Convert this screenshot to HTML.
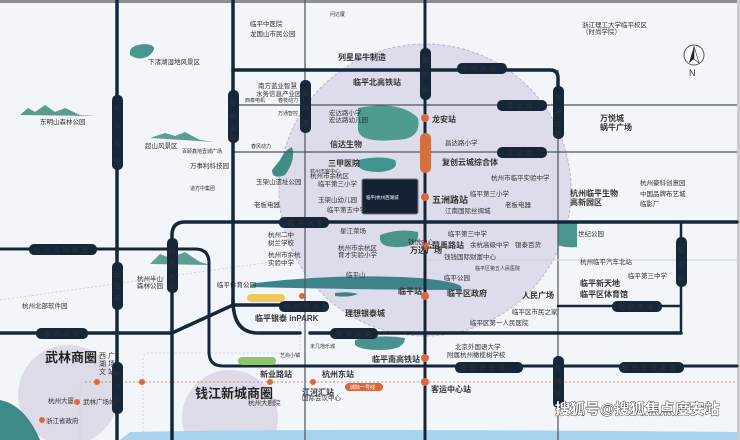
<!DOCTYPE html>
<html><head><meta charset="utf-8"><style>
html,body{margin:0;padding:0;background:#f2f5f9;width:740px;height:440px;overflow:hidden}
svg{display:block}
text{font-family:"Liberation Sans","Noto Sans CJK SC",sans-serif;fill:#333}
.s{font-size:6.5px}
.m{font-size:8px;font-weight:bold;fill:#222}
.p{font-size:6.5px;fill:#fff;letter-spacing:3px}
.pv{font-size:6.5px;fill:#fff}
</style></head><body>
<svg width="740" height="440" viewBox="0 0 740 440" xmlns="http://www.w3.org/2000/svg">
<rect width="740" height="440" fill="#f2f5f9"/>
<rect width="740" height="3" fill="#8d9093"/>
<rect x="737" y="0" width="3" height="440" fill="#c9ccd0"/>

<circle cx="425" cy="190" r="146" fill="#dddcec" stroke="#b8b8cc" stroke-dasharray="3 2" stroke-width="1"/>
<circle cx="68" cy="395" r="50" fill="#dcdbe7"/>
<circle cx="230" cy="418" r="48" fill="#dcdbe7"/>

<path d="M120 440 L130 432 Q300 428 737 432 L737 440 Z" fill="#a9d3ec"/>
<path d="M0 440 L0 400 Q25 405 40 440 Z" fill="#3e8a86"/>

<path d="M130 55 Q128 45 145 44 Q160 45 150 55 Q140 62 130 55Z" fill="#4b958f"/>
<path d="M280 160 Q285 150 292 147 Q296 160 285 175 Q272 180 272 170Z" fill="#3e8d86"/>
<path d="M358 108 Q400 100 418 118 Q422 140 395 140 Q360 143 358 130Z" fill="#4f9b90"/>
<path d="M358 160 Q380 155 395 160 Q400 170 380 172 Q360 172 358 165Z" fill="#3f958e"/>
<path d="M380 235 Q400 228 418 232 Q420 246 400 247 Q382 248 380 240Z" fill="#4b938c"/>
<path d="M255 283 Q340 273 420 278 Q470 283 460 290 Q380 290 250 287Z" fill="#3d8388"/>
<path d="M335 293 Q348 291 358 294 Q348 298 335 296Z" fill="#3d8388"/>
<path d="M355 340 Q380 334 405 338 Q405 350 380 350 Q360 350 355 345Z" fill="#4a928d"/>
<path d="M558 222 L577 222 L577 247 Q565 248 558 245Z" fill="#4b958f"/>
<path d="M20 115 L28 108 L35 112 L45 105 L55 112 L65 108 L80 115 L95 116 Z" fill="#5a9a8f"/>
<path d="M150 138 L165 133 L175 136 L185 132 L200 140 L215 142 Z" fill="#5e9d92"/>
<path d="M150 264 L160 254 L170 258 L185 252 L200 262 L210 265Z" fill="#5e9d92"/>

<g stroke="#4b5560" stroke-width="1.2" fill="none">
<line x1="233" y1="105" x2="737" y2="105"/>
<line x1="233" y1="152" x2="737" y2="152"/>
<line x1="305" y1="0" x2="305" y2="440"/>
<line x1="558" y1="70" x2="558" y2="440"/>
<line x1="425" y1="260" x2="737" y2="260" stroke="#d0d6dc"/>
</g>
<g stroke="#c7ccd2" stroke-width="0.8" fill="none" stroke-dasharray="2 2">
<line x1="0" y1="300" x2="300" y2="258"/>
<path d="M80 440 L80 390 Q80 382 90 382"/>
<path d="M143 440 L143 360 Q143 353 150 353 L300 353 L300 310"/>
</g>
<line x1="85" y1="382" x2="737" y2="382" stroke="#e28a6a" stroke-width="1" stroke-dasharray="2 2"/>

<g stroke="#172638" stroke-width="3.5" fill="none" stroke-linecap="round">
<line x1="117" y1="0" x2="117" y2="440"/>
<line x1="233" y1="0" x2="233" y2="305"/>
<line x1="425" y1="0" x2="425" y2="440" stroke-width="3"/>
<path d="M233 70 L550 70 Q558 70 558 78 L558 110" />
<path d="M172 440 L172 235 Q172 222 185 222 L737 222"/>
<path d="M0 249 L195 249 Q209 249 209 263 L209 352 Q209 366 223 366 L737 366" stroke-width="3"/>
<path d="M0 333 L172 333 L233 305 L305 305"/>
<path d="M233 300 Q233 333 258 333 L300 333"/>
<line x1="310" y1="333" x2="681" y2="333"/>
<line x1="558" y1="306" x2="681" y2="306" stroke-width="2.5"/>
<line x1="681" y1="222" x2="681" y2="333" stroke-width="2.5"/>
</g>

<g fill="#172638">
<rect x="112" y="95" width="11" height="75" rx="5"/>
<rect x="228" y="90" width="11" height="53" rx="5"/>
<rect x="300" y="80" width="11" height="53" rx="5"/>
<rect x="420" y="48" width="11" height="52" rx="5"/>
<rect x="553" y="86" width="11" height="53" rx="5"/>
<rect x="457" y="63" width="50" height="11" rx="5"/>
<rect x="497" y="100" width="50" height="11" rx="5"/>
<rect x="497" y="147" width="50" height="11" rx="5"/>
<rect x="279" y="217" width="50" height="11" rx="5"/>
<rect x="29" y="244" width="68" height="11" rx="5"/>
<rect x="112" y="262" width="11" height="48" rx="5"/>
<rect x="167" y="238" width="11" height="55" rx="5"/>
<rect x="279" y="301" width="50" height="11" rx="5"/>
<rect x="36" y="328" width="52" height="11" rx="5"/>
<rect x="330" y="328" width="48" height="11" rx="5"/>
<rect x="112" y="362" width="11" height="52" rx="5"/>
<rect x="455" y="362" width="68" height="11" rx="5"/>
<rect x="553" y="356" width="11" height="52" rx="5"/>
<rect x="619" y="362" width="65" height="11" rx="5"/>
<rect x="612" y="301" width="50" height="11" rx="5"/>
<rect x="676" y="237" width="11" height="50" rx="5"/>
<rect x="420" y="133" width="11" height="40" rx="5" fill="#d2703f"/>
</g>
<g class="p">
<text x="461" y="71">宁桥大道</text><text x="507" y="108">宏达路</text><text x="507" y="155">五洲路</text>
<text x="288" y="225">临平大道</text><text x="34" y="252">杭州绕城高速</text><text x="284" y="309">世纪大道西</text>
<text x="44" y="336">留石高架</text><text x="336" y="336">望梅高架</text><text x="460" y="370">通胜快速通</text>
<text x="622" y="370">杭州绕城高速</text><text x="618" y="309">世纪大道</text>
</g>
<g class="pv" text-anchor="middle">
<text x="117" y="110">长</text><text x="117" y="128">深</text><text x="117" y="146">高</text><text x="117" y="164">速</text>
<text x="233" y="105">望</text><text x="233" y="118">梅</text><text x="233" y="131">高</text><text x="233" y="140">架</text>
<text x="305" y="95">星</text><text x="305" y="110">河</text><text x="305" y="125">路</text>
<text x="425" y="62">南</text><text x="425" y="77">苑</text><text x="425" y="92">路</text>
<text x="558" y="100">东</text><text x="558" y="113">湖</text><text x="558" y="126">北</text><text x="558" y="136">路</text>
<text x="117" y="276">上</text><text x="117" y="288">塘</text><text x="117" y="300">高</text>
<text x="172" y="253">秋</text><text x="172" y="266">石</text><text x="172" y="279">高</text><text x="172" y="290">架</text>
<text x="117" y="376">中</text><text x="117" y="389">河</text><text x="117" y="402">高</text>
<text x="558" y="370">东</text><text x="558" y="383">湖</text><text x="558" y="396">高</text>
<text x="681" y="252">临</text><text x="681" y="267">东</text><text x="681" y="281">路</text>
</g>

<rect x="362" y="179" width="56" height="35" rx="2" fill="#152234" stroke="#6d7780"/>
<text x="366" y="199" style="font-size:4.5px;fill:#fff">临平|杭州西湖城</text>

<g fill="#d9693f">
<circle cx="425" cy="118" r="4"/><circle cx="425" cy="197" r="4"/><circle cx="425" cy="246" r="4"/>
<circle cx="425" cy="296" r="4"/><circle cx="425" cy="358" r="4"/><circle cx="425" cy="382" r="4"/>
<circle cx="302" cy="296" r="3"/><circle cx="97" cy="382" r="3"/><circle cx="142" cy="382" r="3"/>
<circle cx="270" cy="382" r="3"/><circle cx="313" cy="382" r="3"/><circle cx="77" cy="402" r="3"/>
<circle cx="42" cy="420" r="3"/>
</g>
<rect x="345" y="383" width="38" height="8" rx="4" fill="#d9693f"/>
<text x="350" y="389" style="font-size:5px;fill:#fff">城际一号线</text>
<rect x="247" y="294" width="38" height="8" rx="4" fill="#efc95a"/>
<rect x="238" y="357" width="38" height="8" rx="4" fill="#8fc46e"/>

<g class="s">
<text x="250" y="26">临平中医院</text><text x="250" y="36">龙国山市民公园</text>
<text x="148" y="64">下渚湖湿地风景区</text><text x="40" y="124">东明山森林公园</text>
<text x="145" y="148">超山风景区</text><text x="182" y="153" style="font-size:5px">百颐鑫地壹城广场</text>
<text x="190" y="168">万事利科技园</text><text x="190" y="190" style="font-size:5px">道方中集团</text>
<text x="258" y="88">南方蓝业智慧</text><text x="256" y="96">水务信息产业园</text>
<text x="245" y="102" style="font-size:5px">西泰电机</text><text x="278" y="102" style="font-size:5px">春枝动力</text>
<text x="278" y="115" style="font-size:5px">万通智控</text><text x="251" y="148" style="font-size:5px">春风动力</text>
<text x="256" y="184">玉架山遗址公园</text><text x="254" y="207">老板电器</text>
<text x="329" y="115">宏达路小学</text><text x="329" y="122">宏达路幼儿园</text>
<text x="445" y="145">昌达路小学</text><text x="491" y="180">杭州市临平实验中学</text>
<text x="470" y="196">临平第三小学</text><text x="505" y="207">老板电器</text><text x="445" y="213">江南国际丝绸城</text>
<text x="310" y="178">杭州市余杭区</text><text x="318" y="186">临平第三小学</text>
<text x="318" y="202">玉架山幼儿园</text><text x="327" y="212">临平第五中学</text>
<text x="310" y="173" style="font-size:5px">杭州市客中心</text>
<text x="268" y="237">杭州二中</text><text x="268" y="245">树兰学校</text>
<text x="268" y="257">杭州市余杭</text><text x="268" y="265">实验中学</text>
<text x="340" y="233">星江菜场</text><text x="338" y="250">杭州市余杭区</text><text x="338" y="257">育才实验小学</text>
<text x="346" y="277">临平山</text><text x="22" y="308">杭州北部软件园</text><text x="217" y="287">临平体育公园</text>
<text x="137" y="281">杭州半山</text><text x="137" y="288">森林公园</text>
<text x="408" y="244">钱悦中心</text><text x="448" y="236">临平第三中学</text><text x="470" y="247">余杭高级中学</text>
<text x="515" y="247">银泰百货</text><text x="444" y="259">钱钱国际财富中心</text><text x="475" y="270" style="font-size:5px">临平区第五人民医院</text>
<text x="444" y="280">临平公园</text><text x="470" y="325">临平区第一人民医院</text><text x="512" y="314">临平区市民之家</text>
<text x="455" y="349">北京外国语大学</text><text x="447" y="357">附属杭州橄榄树学校</text>
<text x="578" y="236">世纪公园</text><text x="580" y="264">杭州临平汽车北站</text><text x="628" y="278">临平第三中学</text>
<text x="640" y="185">杭州豪科创意园</text><text x="640" y="196">中国品牌布艺城</text><text x="640" y="206">临影厂</text>
<text x="582" y="27">浙江理工大学临平校区</text><text x="582" y="34">（时尚学院）</text>
<text x="330" y="16" style="font-size:5px">问达厦</text><text x="310" y="348" style="font-size:5px">未几地乐城</text>
<text x="280" y="357" style="font-size:5px">艺尚小镇</text>
<text x="48" y="403">杭州大厦</text><text x="83" y="404">武林广场站</text><text x="46" y="423">浙江省政府</text>
<text x="248" y="405">杭州大剧院</text><text x="302" y="400">国际会议中心</text>
</g>
<g class="m">
<text x="338" y="60">列星犀牛制造</text><text x="353" y="85">临平北高铁站</text><text x="432" y="122">龙安站</text>
<text x="330" y="147">信达生物</text><text x="328" y="166">三甲医院</text><text x="442" y="165">复创云城综合体</text>
<text x="432" y="203" style="font-size:9px">五洲路站</text><text x="600" y="121">万悦城</text><text x="600" y="130">蜗牛广场</text>
<text x="570" y="196">杭州临平生物</text><text x="570" y="205">高新园区</text>
<text x="432" y="248">荷禹路站</text><text x="410" y="253">万达广场</text><text x="398" y="294">临平站</text>
<text x="447" y="296">临平区政府</text><text x="522" y="298">人民广场</text>
<text x="580" y="286">临平新天地</text><text x="580" y="297">临平区体育馆</text>
<text x="345" y="316">理想银泰城</text><text x="255" y="321">临平银泰 inPARK</text>
<text x="372" y="362">临平南高铁站</text><text x="431" y="392">客运中心站</text>
<text x="260" y="377">新业路站</text><text x="322" y="377">杭州东站</text><text x="302" y="395">江河汇站</text>
</g>
<text x="45" y="362" style="font-size:13px;font-weight:bold;fill:#222">武林商圈</text>
<text x="195" y="398" style="font-size:13px;font-weight:bold;fill:#222">钱江新城商圈</text>
<text x="99" y="358" style="font-size:7px">西 广</text><text x="99" y="366" style="font-size:7px">湖 场</text><text x="99" y="374" style="font-size:7px">文 站</text>

<circle cx="694" cy="55" r="10" fill="#fff" stroke="#555" stroke-width="1"/>
<path d="M694 46 L689 63 L694 59Z" fill="#1a2a3c"/><path d="M694 46 L699 63 L694 59Z" fill="#fff" stroke="#1a2a3c" stroke-width="0.6"/>
<text x="689" y="76" style="font-size:9px;fill:#333">N</text>

<text x="555" y="414" style="font-size:15px;font-weight:bold;fill:#fff;stroke:#222;stroke-width:0.8;paint-order:stroke">搜狐号@搜狐焦点度安站</text>
</svg>
</body></html>
